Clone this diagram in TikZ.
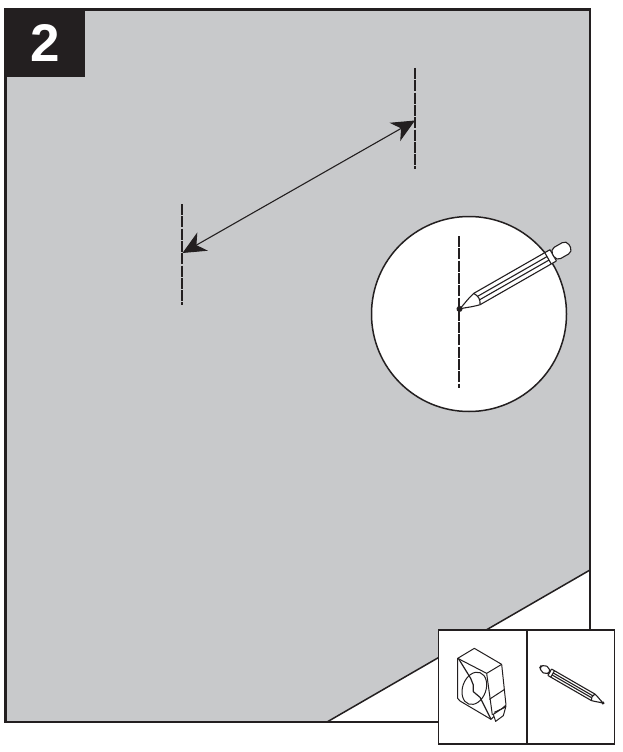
\documentclass[tikz,border=0pt]{standalone}
\usepackage{fontspec}
\setmainfont{Liberation Sans}
\usetikzlibrary{arrows.meta, positioning}
\definecolor{wallgray}{RGB}{200, 201, 203}
\definecolor{inkblack}{RGB}{35, 31, 32}
\tikzstyle{frame} = [
    draw=inkblack, 
    line width=2.8pt
]
\tikzstyle{thinline} = [
    draw=inkblack, 
    line width=1.1pt, 
    line join=round
]
\tikzstyle{mark} = []
\tikzstyle{dashmark} = [
    draw=inkblack, 
    line width=1.3pt, 
    dash pattern=on 11pt off 1.3pt
]
\tikzstyle{arrow} = [
    draw=inkblack, 
    line width=1.1pt, 
    {Stealth[length=23pt, width=21pt, inset=7pt]}-{Stealth[length=23pt, width=21pt, inset=7pt]}
]
\tikzset{
    pencilicon/.pic={
        % body, ferrule and eraser
        \draw[thinline, fill=white, rounded corners=0.4pt] (20,-6.5) -- (108,-6.5) -- (108,6.5) -- (20,6.5) -- cycle;
        \draw[thinline, fill=white, rounded corners=5pt] (108,-6.5) -- (127,-6.5) -- (127,6.5) -- (108,6.5) -- cycle;
        \draw[thinline] (102,-6.5) -- (102,6.5);
        \draw[thinline] (22,-2) -- (102,-2);
        \draw[thinline] (22,2) -- (102,2);
        % point
        \draw[thinline, fill=white] (20,-6.5) .. controls (10,-4) and (6,-1.5) .. (0,0) .. controls (6,1.5) and (10,4) .. (20,6.5) .. controls (23,2) and (23,-2) .. (20,-6.5) -- cycle;
        \fill[inkblack] (0,0) circle (3pt);
    }
}
\begin{document}
\begin{tikzpicture}[x=1pt, y=-1pt]
    \useasboundingbox (0,0) rectangle (623,752);
    % Wall
    \fill[wallgray] (5.5,9.5) rectangle (590,722);
    \fill[white] (327,722) -- (590,570) -- (590,722) -- cycle;
    \draw[thinline, line width=1.5pt] (327,722) -- (590,570);
    \draw[frame] (5.5,9.5) rectangle (590,722);
    
    % Step number
    \node[fill=inkblack, minimum width=80pt, minimum height=68pt, inner sep=0pt, text=white, font=\fontsize{53}{53}\selectfont\bfseries] (stepnum) at (45,43) {2};
    
    % Marks
    \coordinate (marktop) at (415,68);
    \coordinate (markbot) at (415,169);
    \coordinate (marktip) at (415,120.5);
    \coordinate (leftop) at (182,204);
    \coordinate (lefbot) at (182,305);
    \coordinate (leftip) at (182.5,253);
    \draw[dashmark] (marktop) -- (markbot);
    \draw[dashmark] (leftop) -- (lefbot);
    
    % Arrows
    \draw[arrow] (leftip) -- (marktip);
    
    % Detail circle
    \node[circle, draw=inkblack, line width=1.5pt, fill=white, minimum size=195pt, inner sep=0pt] (detail) at (469,314) {};
    \coordinate (dettop) at (459,236);
    \coordinate (detbot) at (459,388);
    \draw[dashmark] (dettop) -- (detbot);
    \pic[rotate=29.8] at (459.5,309) {pencilicon};
    
    % Tools box
    \node[draw=inkblack, line width=1.6pt, fill=white, minimum width=176pt, minimum height=114pt, inner sep=0pt] (tools) at (526.5,687) {};
    \coordinate (divtop) at (527,630);
    \coordinate (divbot) at (527,744);
    \draw[draw=inkblack, line width=1.6pt] (divtop) -- (divbot);
    
    % Tape measure
    \begin{scope}[shift={(430,620)}, x=0.3333pt, y=-0.3333pt, line width=1pt]
        \draw[thinline, line width=1pt, fill=white] (83,115) -- (133,85) -- (215,133) -- (228,255) -- (183,298) -- (90,243) -- (83,235) -- cycle;
        \draw[thinline, line width=1pt] (83,115) -- (170,160) -- (215,133);
        \draw[thinline, line width=1pt] (170,160) -- (187,285);
        \draw[thinline, line width=1pt] (178,238) -- (224,208);
        \draw[thinline, line width=1pt, rotate around={-20:(133,205)}] (133,205) ellipse (35 and 50);
        \draw[thinline, line width=1.2pt] (85,115) -- (122,175) -- (130,195) -- (130,215) -- (150,232) -- (183,298);
        \draw[thinline, line width=1pt, fill=white] (190,283) -- (228,258) -- (220,287) -- (197,304) -- cycle;
        \draw[thinline, line width=1pt] (193,277) -- (225,262);
    \end{scope}
    
    % Small pencil
    \pic[rotate=150, scale=0.57] at (603,703) {pencilicon};
\end{tikzpicture}
\end{document}
